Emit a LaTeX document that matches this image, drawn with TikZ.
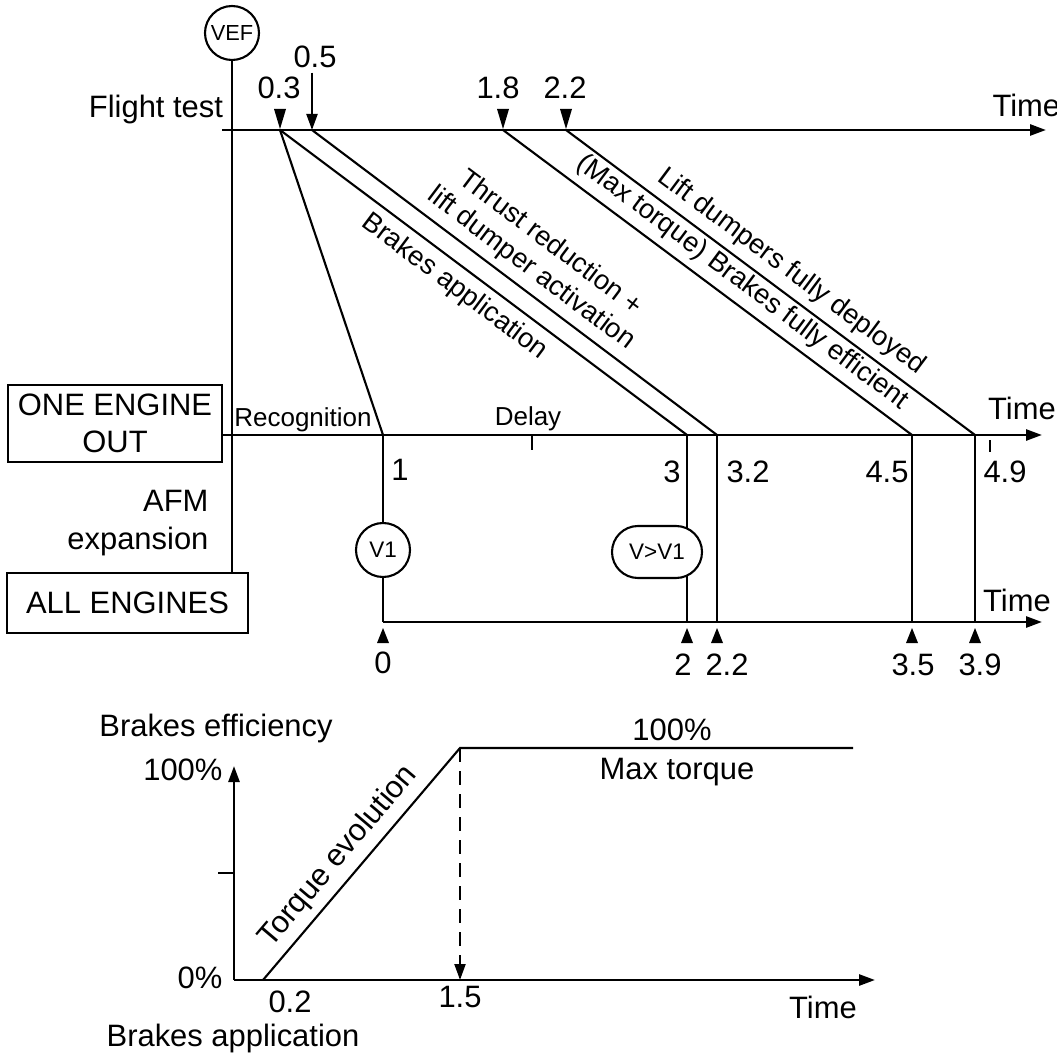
\documentclass[tikz,border=0pt]{standalone}
\usepackage{fontspec}
\setmainfont{Liberation Sans}
\usepackage{tikz}
\usetikzlibrary{positioning,arrows.meta,calc}

\begin{document}
\begin{tikzpicture}[line width=0.6pt, every node/.style={font=\fontsize{8.8}{10.6}\selectfont, inner sep=1pt},
    axis/.style={line width=0.75pt, -{Triangle[length=1.6mm,width=1.1mm]}},
    diag/.style={font=\fontsize{7.8}{9}\selectfont, sloped, inner sep=2pt},
    slab/.style={font=\fontsize{7.4}{9}\selectfont},
    vmark/.style={circle, draw, inner sep=0pt, minimum size=0.54cm, font=\fontsize{6.4}{7}\selectfont, fill=white},
    box/.style={draw, align=center, inner sep=0pt}]
  \useasboundingbox (0,0) rectangle (10.56,-10.57);

  % time axes
  \coordinate (ft0) at (2.22,-1.30);  \coordinate (ftE) at (10.46,-1.30);
  \coordinate (t03) at (2.80,-1.30);  \coordinate (t05) at (3.12,-1.30);
  \coordinate (t18) at (5.03,-1.30);  \coordinate (t22) at (5.66,-1.30);
  \coordinate (r1) at (3.83,-4.35);   \coordinate (r3) at (6.87,-4.35);
  \coordinate (r32) at (7.17,-4.35);  \coordinate (r45) at (9.12,-4.35);
  \coordinate (r49) at (9.75,-4.35);  \coordinate (oeoE) at (10.42,-4.35);
  \coordinate (a0) at (3.83,-6.22);   \coordinate (a2) at (6.87,-6.22);
  \coordinate (a22) at (7.17,-6.22);  \coordinate (a35) at (9.12,-6.22);
  \coordinate (a39) at (9.75,-6.22);  \coordinate (aeE) at (10.42,-6.22);

  \node[box, minimum width=2.14cm, minimum height=0.77cm] (oeo) at (1.15,-4.235) {ONE ENGINE\\OUT};
  \node[box, minimum width=2.41cm, minimum height=0.60cm] (aeng) at (1.275,-6.03) {ALL ENGINES};
  \node[vmark, font=\fontsize{6.2}{7}\selectfont] (vef) at (2.32,-0.33) {VEF};
  \node[align=right, anchor=east] (afm) at (2.13,-5.23) {AFM\\expansion};
  \node (flt) at (1.56,-1.10) {Flight test};

  \draw (vef) -- (vef |- aeng.north);
  \draw[axis] (ft0) -- (ftE);
  \draw[axis] (oeo.east |- r1) -- (oeoE);
  \draw[axis] (a0) -- (aeE);

  \node[anchor=west] (tm1) at (9.88,-1.05) {Time};
  \node (tm2) at (10.22,-4.08) {Time};
  \node (tm3) at (10.17,-6.00) {Time};

  % flight test events
  \node (l03) at (2.79,-0.88) {0.3};
  \node (l05) at (3.15,-0.57) {0.5};
  \node (l18) at (4.98,-0.88) {1.8};
  \node (l22) at (5.65,-0.88) {2.2};
  \draw[-{Triangle[length=1.6mm,width=1.1mm]}] (l05.south -| t05) -- (t05);
  \foreach \p in {t03,t18,t22}
    \fill (\p) ++(0,0.01) -- ++(-0.06,0.20) -- ++(0.12,0) -- cycle;

  \draw (t03) -- (r1);
  \draw (t03) -- node[diag, below, pos=0.46] (brk) {Brakes application} (r3);
  \draw (t05) -- node[diag, above, pos=0.51, align=center] (thr) {Thrust reduction +\\lift dumper activation} (r32);
  \draw (t18) -- node[diag, above, pos=0.555] (eff) {(Max torque) Brakes fully efficient} (r45);
  \draw (t22) -- node[diag, above, pos=0.52] (ldp) {Lift dumpers fully deployed} (r49);

  \node[slab] (rec) at (3.03,-4.20) {Recognition};
  \node[slab] (dly) at (5.28,-4.19) {Delay};
  \draw (5.32,-4.35) -- (5.32,-4.50);
  \draw (9.90,-4.40) -- (9.90,-4.52);

  % AFM expansion lines
  \draw (r1) -- (a0);
  \draw (r3) -- (a2);
  \draw (r32) -- (a22);
  \draw (r45) -- (a35);
  \draw (r49) -- (a39);
  \node[vmark] (v1) at (3.83,-5.50) {V1};
  \node[draw, fill=white, rounded corners=0.26cm, minimum width=0.9cm, minimum height=0.52cm,
        font=\fontsize{6.4}{7}\selectfont] (vv1) at (6.57,-5.52) {V>V1};

  \node (n1) at (4.00,-4.70) {1};
  \node (n3) at (6.72,-4.72) {3};
  \node (n32) at (7.48,-4.72) {3.2};
  \node (n45) at (8.87,-4.72) {4.5};
  \node (n49) at (10.05,-4.72) {4.9};

  \foreach \p in {a0,a2,a22,a35,a39}
    \fill (\p) ++(0,-0.06) -- ++(-0.06,-0.15) -- ++(0.12,0) -- cycle;
  \node (m0) at (3.83,-6.63) {0};
  \node (m2) at (6.83,-6.65) {2};
  \node (m22) at (7.27,-6.65) {2.2};
  \node (m35) at (9.13,-6.65) {3.5};
  \node (m39) at (9.80,-6.65) {3.9};

  % brakes efficiency
  \coordinate (o) at (2.34,-9.80);
  \coordinate (yE) at (2.34,-7.66);
  \coordinate (xE) at (8.75,-9.80);
  \coordinate (b0) at (2.63,-9.80);
  \coordinate (b1) at (4.60,-7.48);
  \coordinate (bE) at (8.53,-7.48);
  \draw[axis] (o) -- (yE);
  \draw[axis] (o) -- (xE);
  \draw (2.18,-8.73) -- (2.34,-8.73);
  \draw (b0) -- node[sloped, above, pos=0.47, inner sep=2pt] (tev) {Torque evolution} (b1) -- (bE);
  \draw[dash pattern=on 1.4mm off 0.9mm, -{Triangle[length=1.6mm,width=1.1mm]}] (b1) -- (b1 |- o);

  \node (beff) at (2.16,-7.28) {Brakes efficiency};
  \node[anchor=east] (p100) at (2.27,-7.70) {100\%};
  \node[anchor=east] (p0) at (2.27,-9.78) {0\%};
  \node (x02) at (2.90,-10.02) {0.2};
  \node (x15) at (4.60,-9.97) {1.5};
  \node (bapp) at (2.33,-10.38) {Brakes application};
  \node (tm4) at (8.23,-10.07) {Time};
  \node (top) at (6.72,-7.30) {100\%};
  \node (mxt) at (6.77,-7.72) {Max torque};
\end{tikzpicture}
\end{document}
